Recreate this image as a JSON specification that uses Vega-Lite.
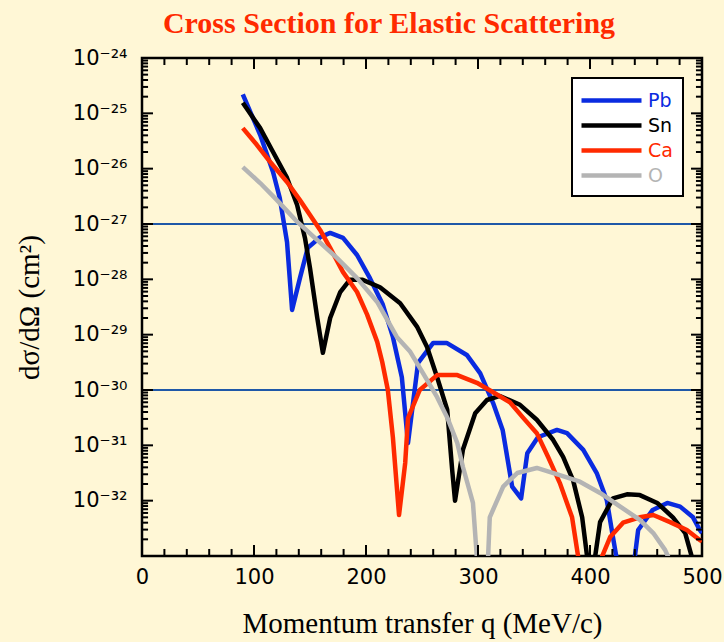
{
  "$schema": "https://vega.github.io/schema/vega-lite/v6.json",
  "autosize": {"type": "none"},
  "width": 560,
  "height": 498,
  "padding": {"left": 142, "top": 58, "right": 22, "bottom": 86},
  "background": "#FFF7D6",
  "title": {
    "text": "Cross Section for Elastic Scattering",
    "font": "Liberation Serif",
    "fontSize": 30,
    "fontWeight": "bold",
    "color": "#FF2A00",
    "anchor": "middle",
    "frame": "group",
    "dx": -33,
    "offset": 8
  },
  "datasets": {
    "curves": [
      {"element": "Pb", "q": 90, "sigma": 2.2e-25},
      {"element": "Pb", "q": 105.5, "sigma": 4.1e-26},
      {"element": "Pb", "q": 117, "sigma": 8.7e-27},
      {"element": "Pb", "q": 123, "sigma": 2.95e-27},
      {"element": "Pb", "q": 129.5, "sigma": 4.7e-28},
      {"element": "Pb", "q": 134, "sigma": 2.8e-29},
      {"element": "Pb", "q": 141, "sigma": 1.05e-28},
      {"element": "Pb", "q": 148, "sigma": 3.7e-28},
      {"element": "Pb", "q": 159, "sigma": 5.75e-28},
      {"element": "Pb", "q": 168, "sigma": 6.9e-28},
      {"element": "Pb", "q": 179.5, "sigma": 5.6e-28},
      {"element": "Pb", "q": 192, "sigma": 2.75e-28},
      {"element": "Pb", "q": 203.5, "sigma": 1.05e-28},
      {"element": "Pb", "q": 215, "sigma": 3.5e-29},
      {"element": "Pb", "q": 224, "sigma": 9.1e-30},
      {"element": "Pb", "q": 232, "sigma": 1.7e-30},
      {"element": "Pb", "q": 237.5, "sigma": 1.1e-31},
      {"element": "Pb", "q": 246.5, "sigma": 3.1e-30},
      {"element": "Pb", "q": 260, "sigma": 7.1e-30},
      {"element": "Pb", "q": 272, "sigma": 7.1e-30},
      {"element": "Pb", "q": 290, "sigma": 4.3e-30},
      {"element": "Pb", "q": 302, "sigma": 2.0e-30},
      {"element": "Pb", "q": 313.5, "sigma": 5.8e-31},
      {"element": "Pb", "q": 322, "sigma": 1.9e-31},
      {"element": "Pb", "q": 330.5, "sigma": 1.8e-32},
      {"element": "Pb", "q": 338.5, "sigma": 1.1e-32},
      {"element": "Pb", "q": 344, "sigma": 7.2e-32},
      {"element": "Pb", "q": 353.5, "sigma": 1.4e-31},
      {"element": "Pb", "q": 370.5, "sigma": 1.9e-31},
      {"element": "Pb", "q": 379.5, "sigma": 1.66e-31},
      {"element": "Pb", "q": 394, "sigma": 8.3e-32},
      {"element": "Pb", "q": 406, "sigma": 3.16e-32},
      {"element": "Pb", "q": 415, "sigma": 1.02e-32},
      {"element": "Pb", "q": 420.5, "sigma": 2.2e-33},
      {"element": "Pb", "q": 424, "sigma": 8.5e-34},
      {"element": "Pb", "q": 432, "sigma": 1e-34},
      {"element": "Pb", "q": 440, "sigma": 9.5e-34},
      {"element": "Pb", "q": 443, "sigma": 2.95e-33},
      {"element": "Pb", "q": 456, "sigma": 6.8e-33},
      {"element": "Pb", "q": 469, "sigma": 9.1e-33},
      {"element": "Pb", "q": 480.5, "sigma": 7.8e-33},
      {"element": "Pb", "q": 492, "sigma": 5.0e-33},
      {"element": "Pb", "q": 498, "sigma": 2.95e-33},
      {"element": "Pb", "q": 500, "sigma": 2.6e-33},

      {"element": "Sn", "q": 90, "sigma": 1.55e-25},
      {"element": "Sn", "q": 105.5, "sigma": 5.4e-26},
      {"element": "Sn", "q": 117, "sigma": 2.0e-26},
      {"element": "Sn", "q": 129.5, "sigma": 6.8e-27},
      {"element": "Sn", "q": 138.5, "sigma": 2.2e-27},
      {"element": "Sn", "q": 145.5, "sigma": 5.6e-28},
      {"element": "Sn", "q": 150, "sigma": 1.6e-28},
      {"element": "Sn", "q": 156.5, "sigma": 2.0e-29},
      {"element": "Sn", "q": 161.5, "sigma": 4.7e-30},
      {"element": "Sn", "q": 168, "sigma": 2.0e-29},
      {"element": "Sn", "q": 177, "sigma": 5.9e-29},
      {"element": "Sn", "q": 185.5, "sigma": 9.8e-29},
      {"element": "Sn", "q": 197, "sigma": 9.8e-29},
      {"element": "Sn", "q": 212.5, "sigma": 7.2e-29},
      {"element": "Sn", "q": 230.5, "sigma": 3.7e-29},
      {"element": "Sn", "q": 245.5, "sigma": 1.4e-29},
      {"element": "Sn", "q": 254.5, "sigma": 6.0e-30},
      {"element": "Sn", "q": 263.5, "sigma": 1.7e-30},
      {"element": "Sn", "q": 272.5, "sigma": 4.4e-31},
      {"element": "Sn", "q": 277, "sigma": 3.5e-32},
      {"element": "Sn", "q": 279.5, "sigma": 1.0e-32},
      {"element": "Sn", "q": 286.5, "sigma": 8.3e-32},
      {"element": "Sn", "q": 297.5, "sigma": 3.8e-31},
      {"element": "Sn", "q": 308, "sigma": 6.6e-31},
      {"element": "Sn", "q": 319.5, "sigma": 7.8e-31},
      {"element": "Sn", "q": 337.5, "sigma": 5.4e-31},
      {"element": "Sn", "q": 352.5, "sigma": 2.9e-31},
      {"element": "Sn", "q": 367, "sigma": 1.26e-31},
      {"element": "Sn", "q": 376, "sigma": 6.2e-32},
      {"element": "Sn", "q": 385, "sigma": 2.3e-32},
      {"element": "Sn", "q": 393, "sigma": 5.0e-33},
      {"element": "Sn", "q": 397.5, "sigma": 9.5e-34},
      {"element": "Sn", "q": 400.5, "sigma": 1e-34},
      {"element": "Sn", "q": 404.5, "sigma": 9.5e-34},
      {"element": "Sn", "q": 409, "sigma": 4.1e-33},
      {"element": "Sn", "q": 420.5, "sigma": 1.1e-32},
      {"element": "Sn", "q": 433, "sigma": 1.3e-32},
      {"element": "Sn", "q": 444.5, "sigma": 1.26e-32},
      {"element": "Sn", "q": 460, "sigma": 9.1e-33},
      {"element": "Sn", "q": 474, "sigma": 5.0e-33},
      {"element": "Sn", "q": 485, "sigma": 2.6e-33},
      {"element": "Sn", "q": 491, "sigma": 9.5e-34},
      {"element": "Sn", "q": 500, "sigma": 1e-34},

      {"element": "Ca", "q": 90, "sigma": 5.4e-26},
      {"element": "Ca", "q": 102.5, "sigma": 2.7e-26},
      {"element": "Ca", "q": 114.5, "sigma": 1.32e-26},
      {"element": "Ca", "q": 129.5, "sigma": 5.75e-27},
      {"element": "Ca", "q": 141, "sigma": 2.7e-27},
      {"element": "Ca", "q": 150, "sigma": 1.45e-27},
      {"element": "Ca", "q": 159, "sigma": 7.8e-28},
      {"element": "Ca", "q": 168, "sigma": 3.7e-28},
      {"element": "Ca", "q": 179.5, "sigma": 1.35e-28},
      {"element": "Ca", "q": 192, "sigma": 5.9e-29},
      {"element": "Ca", "q": 201, "sigma": 2.3e-29},
      {"element": "Ca", "q": 210, "sigma": 7.4e-30},
      {"element": "Ca", "q": 214.5, "sigma": 3.2e-30},
      {"element": "Ca", "q": 219.5, "sigma": 1.0e-30},
      {"element": "Ca", "q": 224, "sigma": 1.4e-31},
      {"element": "Ca", "q": 229.5, "sigma": 5.5e-33},
      {"element": "Ca", "q": 235, "sigma": 4.8e-32},
      {"element": "Ca", "q": 237.5, "sigma": 3.1e-31},
      {"element": "Ca", "q": 248, "sigma": 1.0e-30},
      {"element": "Ca", "q": 263.5, "sigma": 1.86e-30},
      {"element": "Ca", "q": 281.5, "sigma": 1.86e-30},
      {"element": "Ca", "q": 299, "sigma": 1.35e-30},
      {"element": "Ca", "q": 313.5, "sigma": 9.1e-31},
      {"element": "Ca", "q": 328.5, "sigma": 6.0e-31},
      {"element": "Ca", "q": 340, "sigma": 3.2e-31},
      {"element": "Ca", "q": 352.5, "sigma": 1.66e-31},
      {"element": "Ca", "q": 362.5, "sigma": 6.2e-32},
      {"element": "Ca", "q": 373, "sigma": 2.1e-32},
      {"element": "Ca", "q": 384, "sigma": 5.0e-33},
      {"element": "Ca", "q": 389.5, "sigma": 9.5e-34},
      {"element": "Ca", "q": 400, "sigma": 1e-34},
      {"element": "Ca", "q": 410.5, "sigma": 9.5e-34},
      {"element": "Ca", "q": 418, "sigma": 2.2e-33},
      {"element": "Ca", "q": 429.5, "sigma": 4.0e-33},
      {"element": "Ca", "q": 444.5, "sigma": 5.0e-33},
      {"element": "Ca", "q": 456.5, "sigma": 5.5e-33},
      {"element": "Ca", "q": 471.5, "sigma": 4.1e-33},
      {"element": "Ca", "q": 486.5, "sigma": 2.95e-33},
      {"element": "Ca", "q": 498, "sigma": 1.95e-33},
      {"element": "Ca", "q": 500, "sigma": 1.85e-33},

      {"element": "O", "q": 90, "sigma": 1.07e-26},
      {"element": "O", "q": 105.5, "sigma": 5.5e-27},
      {"element": "O", "q": 120.5, "sigma": 2.7e-27},
      {"element": "O", "q": 138.5, "sigma": 1.1e-27},
      {"element": "O", "q": 156.5, "sigma": 5.1e-28},
      {"element": "O", "q": 174, "sigma": 2.45e-28},
      {"element": "O", "q": 192, "sigma": 1.05e-28},
      {"element": "O", "q": 210, "sigma": 3.9e-29},
      {"element": "O", "q": 227.5, "sigma": 9.1e-30},
      {"element": "O", "q": 239.5, "sigma": 4.9e-30},
      {"element": "O", "q": 251, "sigma": 2.0e-30},
      {"element": "O", "q": 263.5, "sigma": 7.4e-31},
      {"element": "O", "q": 272.5, "sigma": 3.2e-31},
      {"element": "O", "q": 281.5, "sigma": 1.1e-31},
      {"element": "O", "q": 286.5, "sigma": 4.1e-32},
      {"element": "O", "q": 295.5, "sigma": 9.1e-33},
      {"element": "O", "q": 299, "sigma": 9.5e-34},
      {"element": "O", "q": 303.5, "sigma": 1e-34},
      {"element": "O", "q": 309, "sigma": 9.5e-34},
      {"element": "O", "q": 310.5, "sigma": 5.0e-33},
      {"element": "O", "q": 322.5, "sigma": 1.8e-32},
      {"element": "O", "q": 335, "sigma": 3.16e-32},
      {"element": "O", "q": 352.5, "sigma": 3.9e-32},
      {"element": "O", "q": 373, "sigma": 2.9e-32},
      {"element": "O", "q": 391, "sigma": 2.2e-32},
      {"element": "O", "q": 409, "sigma": 1.38e-32},
      {"element": "O", "q": 427, "sigma": 7.8e-33},
      {"element": "O", "q": 444.5, "sigma": 4.5e-33},
      {"element": "O", "q": 456.5, "sigma": 2.6e-33},
      {"element": "O", "q": 467, "sigma": 1.29e-33},
      {"element": "O", "q": 470, "sigma": 9.5e-34},
      {"element": "O", "q": 473, "sigma": 6e-34}
    ],
    "levels": [
      {"sigma": 1e-27},
      {"sigma": 1e-30}
    ],
    "decades": [
      {"sigma": 1e-32}, {"sigma": 1e-31}, {"sigma": 1e-30}, {"sigma": 1e-29}, {"sigma": 1e-28},
      {"sigma": 1e-27}, {"sigma": 1e-26}, {"sigma": 1e-25}
    ],
    "subdecades": [
      {"sigma": 2e-33}, {"sigma": 3e-33}, {"sigma": 4e-33}, {"sigma": 5e-33}, {"sigma": 6e-33}, {"sigma": 7e-33}, {"sigma": 8e-33}, {"sigma": 9e-33},
      {"sigma": 2e-32}, {"sigma": 3e-32}, {"sigma": 4e-32}, {"sigma": 5e-32}, {"sigma": 6e-32}, {"sigma": 7e-32}, {"sigma": 8e-32}, {"sigma": 9e-32},
      {"sigma": 2e-31}, {"sigma": 3e-31}, {"sigma": 4e-31}, {"sigma": 5e-31}, {"sigma": 6e-31}, {"sigma": 7e-31}, {"sigma": 8e-31}, {"sigma": 9e-31},
      {"sigma": 2e-30}, {"sigma": 3e-30}, {"sigma": 4e-30}, {"sigma": 5e-30}, {"sigma": 6e-30}, {"sigma": 7e-30}, {"sigma": 8e-30}, {"sigma": 9e-30},
      {"sigma": 2e-29}, {"sigma": 3e-29}, {"sigma": 4e-29}, {"sigma": 5e-29}, {"sigma": 6e-29}, {"sigma": 7e-29}, {"sigma": 8e-29}, {"sigma": 9e-29},
      {"sigma": 2e-28}, {"sigma": 3e-28}, {"sigma": 4e-28}, {"sigma": 5e-28}, {"sigma": 6e-28}, {"sigma": 7e-28}, {"sigma": 8e-28}, {"sigma": 9e-28},
      {"sigma": 2e-27}, {"sigma": 3e-27}, {"sigma": 4e-27}, {"sigma": 5e-27}, {"sigma": 6e-27}, {"sigma": 7e-27}, {"sigma": 8e-27}, {"sigma": 9e-27},
      {"sigma": 2e-26}, {"sigma": 3e-26}, {"sigma": 4e-26}, {"sigma": 5e-26}, {"sigma": 6e-26}, {"sigma": 7e-26}, {"sigma": 8e-26}, {"sigma": 9e-26},
      {"sigma": 2e-25}, {"sigma": 3e-25}, {"sigma": 4e-25}, {"sigma": 5e-25}, {"sigma": 6e-25}, {"sigma": 7e-25}, {"sigma": 8e-25}, {"sigma": 9e-25}
    ],
    "hundreds": [
      {"q": 100}, {"q": 200}, {"q": 300}, {"q": 400}
    ],
    "twenties": [
      {"q": 20}, {"q": 40}, {"q": 60}, {"q": 80}, {"q": 120}, {"q": 140}, {"q": 160}, {"q": 180},
      {"q": 220}, {"q": 240}, {"q": 260}, {"q": 280}, {"q": 320}, {"q": 340}, {"q": 360}, {"q": 380},
      {"q": 420}, {"q": 440}, {"q": 460}, {"q": 480}
    ]
  },
  "layer": [
    {
      "data": {"name": "levels"},
      "mark": {"type": "rule", "stroke": "#1F58A8", "strokeWidth": 2.2},
      "encoding": {
        "y": {"field": "sigma", "type": "quantitative", "scale": {"type": "log", "domain": [1e-33, 1e-24], "nice": false}}
      }
    },
    {
      "data": {"name": "curves"},
      "mark": {"type": "line", "clip": true, "strokeWidth": 4.5, "strokeJoin": "round"},
      "encoding": {
        "x": {
          "field": "q",
          "type": "quantitative",
          "scale": {"domain": [0, 500], "nice": false, "zero": false},
          "axis": {
            "orient": "bottom",
            "values": [0, 100, 200, 300, 400, 500],
            "ticks": false,
            "domain": false,
            "grid": false,
            "labelFont": "DejaVu Sans",
            "labelFontSize": 21,
            "labelColor": "black",
            "labelPadding": 10,
            "labelFlush": false,
            "labelOverlap": false,
            "title": "Momentum transfer q (MeV/c)",
            "titleFont": "Liberation Serif",
            "titleFontSize": 29,
            "titleFontWeight": "normal",
            "titleColor": "black",
            "titlePadding": 22
          }
        },
        "y": {
          "field": "sigma",
          "type": "quantitative",
          "scale": {"type": "log", "domain": [1e-33, 1e-24], "nice": false},
          "axis": {
            "orient": "left",
            "values": [1e-32, 1e-31, 1e-30, 1e-29, 1e-28, 1e-27, 1e-26, 1e-25, 1e-24],
            "labelExpr": "'10⁻' + ['²⁴','²⁵','²⁶','²⁷','²⁸','²⁹','³⁰','³¹','³²','³³'][-round(log(datum.value) / LN10) - 24]",
            "ticks": false,
            "domain": false,
            "grid": false,
            "labelFont": "DejaVu Sans",
            "labelFontSize": 21,
            "labelColor": "black",
            "labelPadding": 15,
            "labelOverlap": false,
            "title": "dσ/dΩ (cm²)",
            "titleFont": "Liberation Serif",
            "titleFontSize": 29,
            "titleFontWeight": "normal",
            "titleColor": "black",
            "titlePadding": 28
          }
        },
        "color": {
          "field": "element",
          "type": "nominal",
          "scale": {
            "domain": ["Pb", "Sn", "Ca", "O"],
            "range": ["#0A2BE0", "#000000", "#FF2A00", "#B4B4B4"]
          },
          "legend": {
            "title": null,
            "orient": "none",
            "legendX": 430,
            "legendY": 20,
            "symbolType": "M-3,0H3",
            "symbolSize": 400,
            "symbolStrokeWidth": 4.5,
            "symbolOffset": 17,
            "labelOffset": 24,
            "labelFont": "DejaVu Sans",
            "labelFontSize": 19,
            "fillColor": "white",
            "strokeColor": "black",
            "padding": 10,
            "rowPadding": 2,
            "encode": {
              "legend": {"update": {"strokeWidth": {"value": 2}}},
              "labels": {"update": {"fill": {"scale": "color", "field": "value"}}}
            }
          }
        }
      }
    },
    {
      "data": {"name": "decades"},
      "mark": {"type": "rule", "stroke": "black", "strokeWidth": 2},
      "encoding": {
        "y": {"field": "sigma", "type": "quantitative"},
        "x": {"datum": 0, "type": "quantitative"},
        "x2": {"datum": 9.8}
      }
    },
    {
      "data": {"name": "decades"},
      "mark": {"type": "rule", "stroke": "black", "strokeWidth": 2},
      "encoding": {
        "y": {"field": "sigma", "type": "quantitative"},
        "x": {"datum": 500, "type": "quantitative"},
        "x2": {"datum": 490.2}
      }
    },
    {
      "data": {"name": "subdecades"},
      "mark": {"type": "rule", "stroke": "black", "strokeWidth": 2},
      "encoding": {
        "y": {"field": "sigma", "type": "quantitative"},
        "x": {"datum": 0, "type": "quantitative"},
        "x2": {"datum": 5.4}
      }
    },
    {
      "data": {"name": "subdecades"},
      "mark": {"type": "rule", "stroke": "black", "strokeWidth": 2},
      "encoding": {
        "y": {"field": "sigma", "type": "quantitative"},
        "x": {"datum": 500, "type": "quantitative"},
        "x2": {"datum": 494.6}
      }
    },
    {
      "data": {"name": "hundreds"},
      "mark": {"type": "rule", "stroke": "black", "strokeWidth": 2},
      "encoding": {
        "x": {"field": "q", "type": "quantitative"},
        "y": {"datum": 1e-33, "type": "quantitative"},
        "y2": {"datum": 1.58e-33}
      }
    },
    {
      "data": {"name": "hundreds"},
      "mark": {"type": "rule", "stroke": "black", "strokeWidth": 2},
      "encoding": {
        "x": {"field": "q", "type": "quantitative"},
        "y": {"datum": 1e-24, "type": "quantitative"},
        "y2": {"datum": 6.33e-25}
      }
    },
    {
      "data": {"name": "twenties"},
      "mark": {"type": "rule", "stroke": "black", "strokeWidth": 2},
      "encoding": {
        "x": {"field": "q", "type": "quantitative"},
        "y": {"datum": 1e-33, "type": "quantitative"},
        "y2": {"datum": 1.34e-33}
      }
    },
    {
      "data": {"name": "twenties"},
      "mark": {"type": "rule", "stroke": "black", "strokeWidth": 2},
      "encoding": {
        "x": {"field": "q", "type": "quantitative"},
        "y": {"datum": 1e-24, "type": "quantitative"},
        "y2": {"datum": 7.47e-25}
      }
    }
  ],
  "config": {
    "view": {"stroke": "black", "strokeWidth": 2.5, "fill": null}
  }
}
